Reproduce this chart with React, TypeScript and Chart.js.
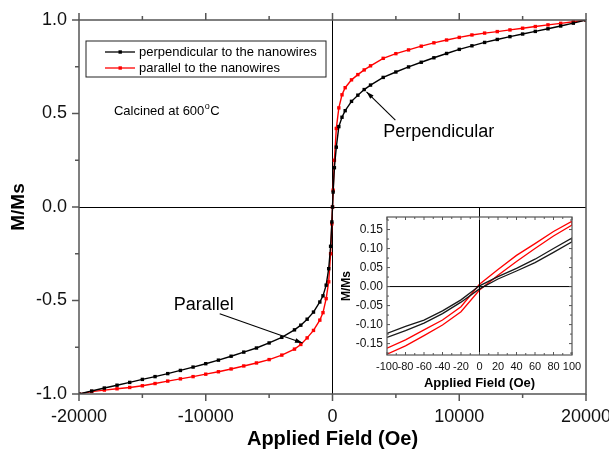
import React, { useEffect, useRef } from "react";
import { Chart, registerables } from "chart.js";

Chart.register(...registerables);

// ---------- main chart data ----------
const fieldOe = [
  -20000, -19000, -18000, -17000, -16000, -15000, -14000, -13000, -12000, -11000,
  -10000, -9000, -8000, -7000, -6000, -5000, -4000, -3000, -2500, -2000, -1500,
  -1000, -750, -500, -300, -150, -50, 0, 50, 150, 300, 500, 750, 1000, 1500, 2000,
  2500, 3000, 4000, 5000, 6000, 7000, 8000, 9000, 10000, 11000, 12000, 13000, 14000,
  15000, 16000, 17000, 18000, 19000, 20000,
];
const perpendicular = [
  -1.0, -0.984, -0.968, -0.953, -0.938, -0.922, -0.907, -0.891, -0.874, -0.856,
  -0.838, -0.819, -0.798, -0.776, -0.754, -0.727, -0.697, -0.657, -0.632, -0.6, -0.562,
  -0.508, -0.475, -0.418, -0.33, -0.21, -0.08, 0, 0.08, 0.21, 0.32, 0.43, 0.48, 0.515,
  0.565, 0.598, 0.628, 0.652, 0.693, 0.722, 0.749, 0.774, 0.798, 0.821, 0.843, 0.862,
  0.88, 0.896, 0.911, 0.925, 0.939, 0.953, 0.968, 0.983, 1.0,
];
const parallel = [
  -1.0, -0.987, -0.979, -0.972, -0.965, -0.956, -0.944, -0.931, -0.919, -0.907,
  -0.894, -0.881, -0.866, -0.85, -0.834, -0.816, -0.792, -0.76, -0.735, -0.7, -0.66,
  -0.605, -0.565, -0.49, -0.4, -0.25, -0.09, 0, 0.09, 0.25, 0.42, 0.53, 0.6, 0.638,
  0.68, 0.708, 0.733, 0.755, 0.795, 0.82, 0.84, 0.86, 0.878, 0.893, 0.907, 0.92, 0.93,
  0.938, 0.947, 0.956, 0.965, 0.974, 0.982, 0.991, 1.0,
];
const xTickValues = [-20000, -10000, 0, 10000, 20000];
const xMinorTicks = [-15000, -5000, 5000, 15000];
const yTickValues = [-1, -0.5, 0, 0.5, 1];
const yMinorTicks = [-0.75, -0.25, 0.25, 0.75];
const seriesLabels = ["perpendicular to the nanowires", "parallel to the nanowires"];

// ---------- inset data ----------
const insetField = [-100, -80, -60, -40, -20, 0, 20, 40, 60, 80, 100];
const perpDescending = [-0.123, -0.105, -0.088, -0.064, -0.035, 0.002, 0.026, 0.048, 0.072, 0.1, 0.128];
const perpAscending = [-0.134, -0.116, -0.096, -0.071, -0.041, -0.006, 0.02, 0.041, 0.063, 0.09, 0.118];
const parDescending = [-0.162, -0.14, -0.114, -0.088, -0.053, 0.006, 0.045, 0.082, 0.113, 0.145, 0.172];
const parAscending = [-0.178, -0.156, -0.129, -0.101, -0.066, -0.009, 0.03, 0.066, 0.1, 0.133, 0.162];
const insetXTicks = [-100, -80, -60, -40, -20, 0, 20, 40, 60, 80, 100];
const insetYTicks = [-0.15, -0.1, -0.05, 0, 0.05, 0.1, 0.15];
const insetXMinor = [-90, -70, -50, -30, -10, 10, 30, 50, 70, 90];
const insetYMinor = [-0.175, -0.125, -0.075, -0.025, 0.025, 0.075, 0.125, 0.175];

const FONT = '"Liberation Sans", Arial, Helvetica, sans-serif';
const FRAME = "#555";

function line(ctx: CanvasRenderingContext2D, x1: number, y1: number, x2: number, y2: number) {
  ctx.beginPath();
  ctx.moveTo(x1, y1);
  ctx.lineTo(x2, y2);
  ctx.stroke();
}

function arrow(ctx: CanvasRenderingContext2D, x1: number, y1: number, x2: number, y2: number) {
  ctx.save();
  ctx.strokeStyle = "#000";
  ctx.fillStyle = "#000";
  ctx.lineWidth = 1.1;
  line(ctx, x1, y1, x2, y2);
  const ang = Math.atan2(y2 - y1, x2 - x1);
  const len = 8;
  const spread = 0.3;
  ctx.beginPath();
  ctx.moveTo(x2, y2);
  ctx.lineTo(x2 - len * Math.cos(ang - spread), y2 - len * Math.sin(ang - spread));
  ctx.lineTo(x2 - len * Math.cos(ang + spread), y2 - len * Math.sin(ang + spread));
  ctx.closePath();
  ctx.fill();
  ctx.restore();
}

const mainDecor = {
  id: "mainDecor",
  afterDraw(chart: any) {
    const { ctx, chartArea: a, scales } = chart;
    const x = scales.x;
    const y = scales.y;
    ctx.save();
    ctx.strokeStyle = FRAME;
    ctx.lineWidth = 1.5;
    ctx.strokeRect(a.left, a.top, a.right - a.left, a.bottom - a.top);
    const xt = (v: number, len: number) => {
      const px = x.getPixelForValue(v);
      line(ctx, px, a.bottom, px, a.bottom + len);
      line(ctx, px, a.top, px, a.top - len);
    };
    xTickValues.forEach((v) => xt(v, 7));
    xMinorTicks.forEach((v) => xt(v, 4));
    const yt = (v: number, len: number) => {
      const py = y.getPixelForValue(v);
      line(ctx, a.left, py, a.left - len, py);
    };
    yTickValues.forEach((v) => yt(v, 7));
    yMinorTicks.forEach((v) => yt(v, 4));

    // legend
    const lx = a.left + 7;
    const ly = a.top + 21;
    ctx.lineWidth = 1;
    ctx.strokeStyle = "#222";
    ctx.strokeRect(lx, ly, 240, 36);
    const colors = ["#000", "#ff0000"];
    ctx.font = `13px ${FONT}`;
    ctx.textBaseline = "middle";
    ctx.textAlign = "left";
    seriesLabels.forEach((lab, i) => {
      const yy = ly + 11 + i * 16;
      ctx.strokeStyle = colors[i];
      ctx.lineWidth = 1.3;
      line(ctx, lx + 19, yy, lx + 49, yy);
      ctx.fillStyle = colors[i];
      ctx.fillRect(lx + 32.5, yy - 1.7, 3.4, 3.4);
      ctx.fillStyle = "#000";
      ctx.fillText(lab, lx + 53, yy + 0.5);
    });

    // "Calcined at 600°C"
    const cx = x.getPixelForValue(-17240);
    const cy = y.getPixelForValue(0.512);
    ctx.fillStyle = "#000";
    ctx.font = `13px ${FONT}`;
    ctx.fillText("Calcined at 600", cx, cy);
    const w = ctx.measureText("Calcined at 600").width;
    ctx.font = `9px ${FONT}`;
    ctx.fillText("o", cx + w + 0.5, cy - 5);
    ctx.font = `13px ${FONT}`;
    ctx.fillText("C", cx + w + 6, cy);

    // annotations
    ctx.font = `18px ${FONT}`;
    ctx.fillText("Perpendicular", x.getPixelForValue(4000), y.getPixelForValue(0.4));
    ctx.fillText("Parallel", x.getPixelForValue(-12520), y.getPixelForValue(-0.525));
    arrow(ctx, x.getPixelForValue(4960), y.getPixelForValue(0.464), x.getPixelForValue(2680), y.getPixelForValue(0.616));
    arrow(ctx, x.getPixelForValue(-8900), y.getPixelForValue(-0.571), x.getPixelForValue(-2360), y.getPixelForValue(-0.727));
    ctx.restore();
  },
};

const insetDecor = {
  id: "insetDecor",
  afterDraw(chart: any) {
    const { ctx, chartArea: a, scales } = chart;
    const x = scales.x;
    const y = scales.y;
    ctx.save();
    ctx.strokeStyle = "#000";
    ctx.lineWidth = 1;
    const zx = x.getPixelForValue(0);
    line(ctx, zx, 0, zx, a.bottom);
    const zy = y.getPixelForValue(0);
    line(ctx, a.left, zy, a.right, zy);
    ctx.strokeStyle = FRAME;
    ctx.lineWidth = 1.2;
    ctx.strokeRect(a.left, a.top, a.right - a.left, a.bottom - a.top);
    ctx.lineWidth = 1;
    const xt = (v: number, len: number) => {
      const px = x.getPixelForValue(v);
      line(ctx, px, a.bottom, px, a.bottom - len);
      line(ctx, px, a.top, px, a.top + len);
    };
    insetXTicks.forEach((v) => xt(v, 3));
    insetXMinor.forEach((v) => xt(v, 2));
    const yt = (v: number, len: number) => {
      const py = y.getPixelForValue(v);
      line(ctx, a.left, py, a.left + len, py);
      line(ctx, a.right, py, a.right - len, py);
    };
    insetYTicks.forEach((v) => yt(v, 3));
    insetYMinor.forEach((v) => yt(v, 2));
    ctx.restore();
  },
};

function pts(xs: number[], ys: number[]) {
  return xs.map((h, i) => ({ x: h, y: ys[i] }));
}

export default function App() {
  const mainRef = useRef<HTMLCanvasElement>(null);
  const insetRef = useRef<HTMLCanvasElement>(null);

  useEffect(() => {
    document.body.style.margin = "0";
    const main = new Chart(mainRef.current as HTMLCanvasElement, {
      type: "scatter",
      data: {
        datasets: [
          {
            label: seriesLabels[0],
            data: pts(fieldOe, perpendicular),
            showLine: true,
            borderColor: "#000",
            backgroundColor: "#000",
            borderWidth: 1.4,
            pointStyle: "rect",
            pointRadius: 2.4,
            pointBorderWidth: 0,
          },
          {
            label: seriesLabels[1],
            data: pts(fieldOe, parallel),
            showLine: true,
            borderColor: "#ff0000",
            backgroundColor: "#ff0000",
            borderWidth: 1.4,
            pointStyle: "rect",
            pointRadius: 2.4,
            pointBorderWidth: 0,
          },
        ],
      },
      options: {
        animation: false,
        responsive: false,
        layout: { padding: { left: 0, right: 23, top: 20, bottom: 0 } },
        plugins: { legend: { display: false }, tooltip: { enabled: false } },
        scales: {
          x: {
            type: "linear",
            min: -20000,
            max: 20000,
            afterBuildTicks: (s: any) => {
              s.ticks = xTickValues.map((v) => ({ value: v }));
            },
            afterFit: (s: any) => {
              s.height = 59;
              s.paddingLeft = 0;
              s.paddingRight = 0;
            },
            ticks: {
              font: { family: FONT, size: 18 },
              color: "#111",
              padding: 12,
              maxRotation: 0,
              autoSkip: false,
              callback: (v: any) => String(v),
            },
            grid: {
              drawTicks: false,
              color: (c: any) => (c.tick && c.tick.value === 0 ? "#000" : "rgba(0,0,0,0)"),
              lineWidth: 1,
            },
            border: { display: false },
            title: {
              display: true,
              text: "Applied Field (Oe)",
              font: { family: FONT, size: 20, weight: "bold" },
              color: "#000",
              padding: { top: 0, bottom: 2 },
            },
          },
          y: {
            type: "linear",
            min: -1,
            max: 1,
            afterBuildTicks: (s: any) => {
              s.ticks = yTickValues.map((v) => ({ value: v }));
            },
            afterFit: (s: any) => {
              s.width = 79;
              s.paddingTop = 0;
              s.paddingBottom = 0;
            },
            ticks: {
              font: { family: FONT, size: 18 },
              color: "#111",
              padding: 12,
              callback: (v: any) => Number(v).toFixed(1),
            },
            grid: {
              drawTicks: false,
              color: (c: any) => (c.tick && c.tick.value === 0 ? "#000" : "rgba(0,0,0,0)"),
              lineWidth: 1,
            },
            border: { display: false },
            title: {
              display: true,
              text: "M/Ms",
              font: { family: FONT, size: 19, weight: "bold" },
              color: "#000",
              padding: { top: 7, bottom: 0 },
            },
          },
        },
      },
      plugins: [mainDecor],
    } as any);

    const loop = (up: number[], down: number[]) =>
      pts(insetField, down).concat(pts(insetField.slice().reverse(), up.slice().reverse()));

    const inset = new Chart(insetRef.current as HTMLCanvasElement, {
      type: "scatter",
      data: {
        datasets: [
          {
            label: "perpendicular",
            data: loop(perpDescending, perpAscending),
            showLine: true,
            borderColor: "#1a1a1a",
            borderWidth: 1.3,
            pointRadius: 0,
          },
          {
            label: "parallel",
            data: loop(parDescending, parAscending),
            showLine: true,
            borderColor: "#ff0000",
            borderWidth: 1.3,
            pointRadius: 0,
          },
        ],
      },
      options: {
        animation: false,
        responsive: false,
        layout: { padding: { left: 0, right: 18, top: 10, bottom: 0 } },
        plugins: { legend: { display: false }, tooltip: { enabled: false } },
        scales: {
          x: {
            type: "linear",
            min: -100,
            max: 100,
            afterBuildTicks: (s: any) => {
              s.ticks = insetXTicks.map((v) => ({ value: v }));
            },
            afterFit: (s: any) => {
              s.height = 42;
              s.paddingLeft = 0;
              s.paddingRight = 0;
            },
            ticks: {
              font: { family: FONT, size: 11 },
              color: "#111",
              padding: 5,
              maxRotation: 0,
              autoSkip: false,
              callback: (v: any) => String(v),
            },
            grid: { display: false, drawTicks: false },
            border: { display: false },
            title: {
              display: true,
              text: "Applied Field (Oe)",
              font: { family: FONT, size: 13, weight: "bold" },
              color: "#000",
              padding: { top: 0, bottom: 6 },
            },
          },
          y: {
            type: "linear",
            min: -0.18,
            max: 0.183,
            afterBuildTicks: (s: any) => {
              s.ticks = insetYTicks.map((v) => ({ value: v }));
            },
            afterFit: (s: any) => {
              s.width = 57;
              s.paddingTop = 0;
              s.paddingBottom = 0;
            },
            ticks: {
              font: { family: FONT, size: 12 },
              color: "#111",
              padding: 4,
              callback: (v: any) => Number(v).toFixed(2),
            },
            grid: { display: false, drawTicks: false },
            border: { display: false },
            title: {
              display: true,
              text: "M/Ms",
              font: { family: FONT, size: 12, weight: "bold" },
              color: "#000",
              padding: { top: 9, bottom: 0 },
            },
          },
        },
      },
      plugins: [insetDecor],
    } as any);

    return () => {
      main.destroy();
      inset.destroy();
    };
  }, []);

  return (
    <div style={{ position: "relative", width: 609, height: 453, background: "#fff" }}>
      <canvas ref={mainRef} width={609} height={453} style={{ position: "absolute", left: 0, top: 0 }} />
      <canvas ref={insetRef} width={260} height={190} style={{ position: "absolute", left: 330, top: 207 }} />
    </div>
  );
}
